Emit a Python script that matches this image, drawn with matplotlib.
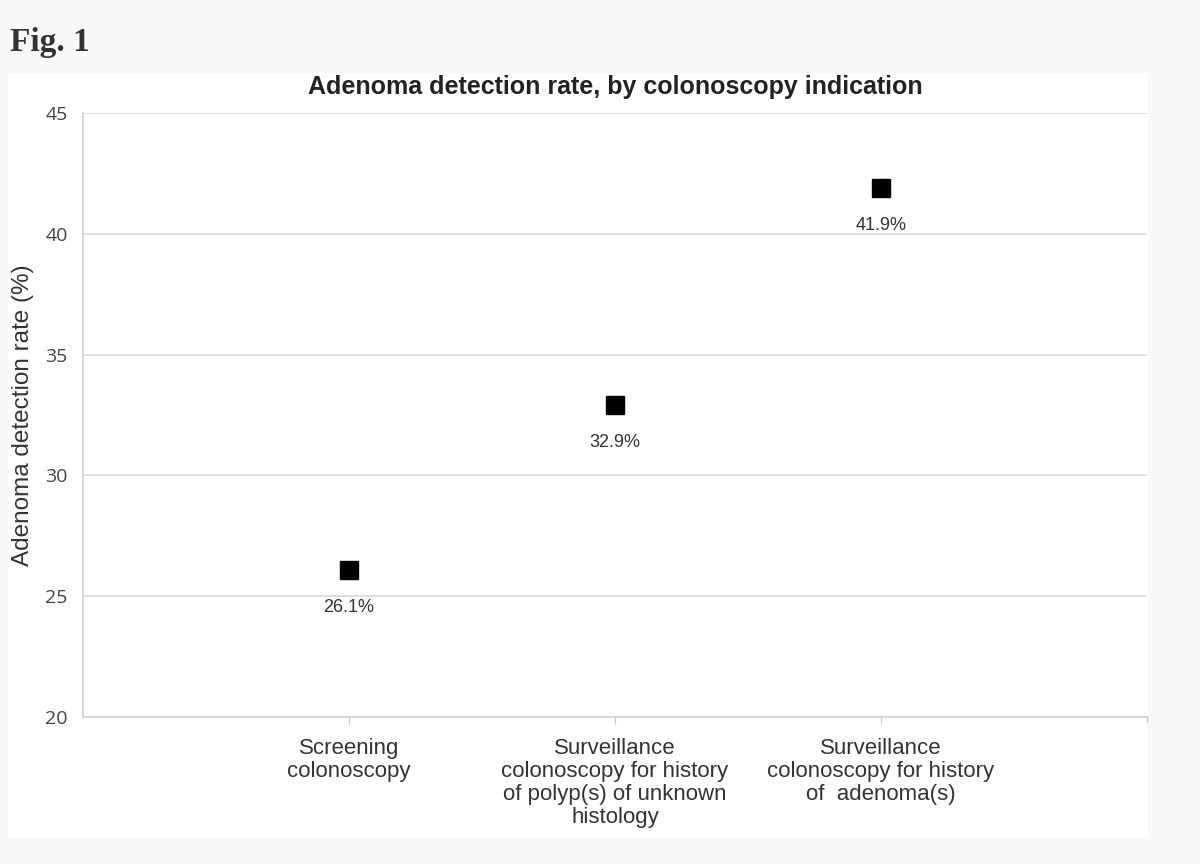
import matplotlib.pyplot as plt
from matplotlib.patches import Rectangle

categories = [
    "Screening\ncolonoscopy",
    "Surveillance\ncolonoscopy for history\nof polyp(s) of unknown\nhistology",
    "Surveillance\ncolonoscopy for history\nof  adenoma(s)",
]
rates = [26.1, 32.9, 41.9]
rate_labels = ["26.1%", "32.9%", "41.9%"]
x_pos = [1, 2, 3]
y_ticks = [20, 25, 30, 35, 40, 45]

plt.rcParams['font.family'] = ['Liberation Sans', 'DejaVu Sans']

fig = plt.figure(figsize=(12, 8.64), dpi=100, facecolor='#f8f8f8')

# white chart panel behind the axes
fig.patches.append(Rectangle((8 / 1200, 1 - 838 / 864), 1140 / 1200, 765 / 864,
                             transform=fig.transFigure, facecolor='white',
                             edgecolor='none', zorder=-5))

fig.text(10 / 1200, 1 - 43 / 864, "Fig. 1", family='Liberation Serif', fontweight='bold',
         fontsize=24, color='#333333', va='center', ha='left')

ax = fig.add_axes([83 / 1200, 1 - 717 / 864, 1064 / 1200, 604 / 864])
ax.set_facecolor('white')

ax.plot(x_pos, rates, linestyle='none', marker='s', markersize=13, color='black', zorder=3)
for x, y, lab in zip(x_pos, rates, rate_labels):
    ax.annotate(lab, (x, y), xytext=(0, -27), textcoords='offset points',
                ha='center', va='center', fontsize=13, color='#333333')

ax.set_xlim(0, 4)
ax.set_ylim(20, 45)
ax.set_yticks(y_ticks)
ax.set_yticklabels([str(t) for t in y_ticks], family='Open Sans', fontsize=14, color='#444444')
ax.set_xticks(x_pos)
ax.set_xticklabels(categories, fontsize=16, color='#333333', linespacing=1.12)
ax.tick_params(axis='y', length=0, pad=11)
ax.tick_params(axis='x', length=5, color='#c8c8c8', pad=10)

ax.grid(axis='y', color='#d9d9d9', linewidth=1.2)
ax.set_axisbelow(True)
for side in ['top', 'right']:
    ax.spines[side].set_visible(False)
ax.spines['left'].set_color('#d0d0d0')
ax.spines['bottom'].set_color('#d0d0d0')
ax.spines['left'].set_linewidth(1.2)
ax.spines['bottom'].set_linewidth(1.2)

# tick at the right end of the category axis
ax.plot([4, 4], [0, -0.008], transform=ax.get_xaxis_transform(), color='#c8c8c8',
        clip_on=False, linewidth=1)

ax.set_ylabel("Adenoma detection rate (%)", fontsize=17.5, color='#333333', labelpad=8)
ax.set_title("Adenoma detection rate, by colonoscopy indication", fontsize=18,
             fontweight='bold', color='#222222', pad=14)

fig.savefig('out.png', dpi=100, facecolor=fig.get_facecolor())
